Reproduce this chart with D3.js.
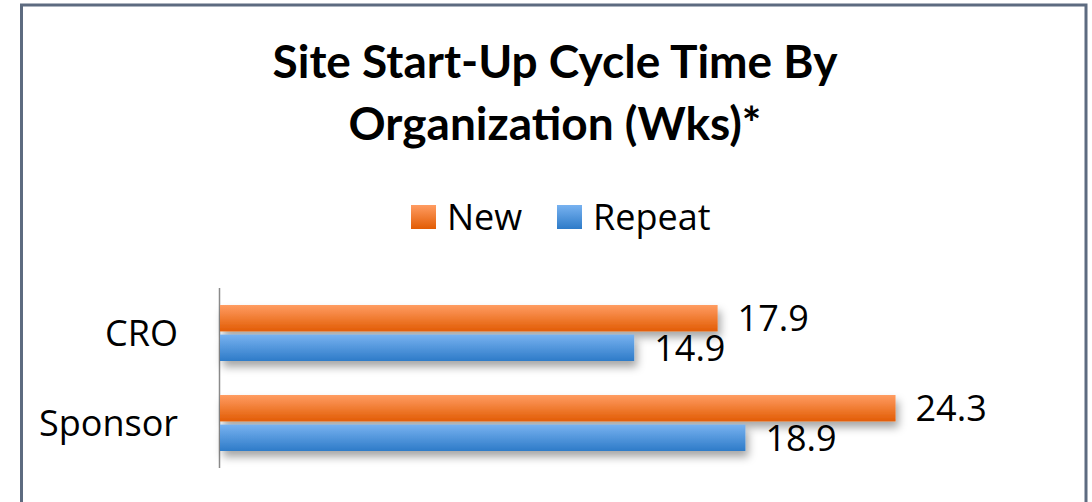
<!DOCTYPE html>
<html><head><meta charset="utf-8">
<script src="https://cdn.jsdelivr.net/npm/d3@7"></script>
<style>body{margin:0;background:#fff;overflow:hidden}svg{display:block}</style>
</head><body>
<script>
const title = ["Site Start-Up Cycle Time By", "Organization (Wks)*"];
const categories = ["CRO", "Sponsor"];
const seriesNames = ["New", "Repeat"];
const newValues = [17.9, 24.3];
const repeatValues = [14.9, 18.9];

const W = 1092, H = 502;
const titleFont = "Lato, 'Open Sans', sans-serif";
const font = "'Open Sans', 'Noto Sans', sans-serif";
const svg = d3.select("body").append("svg").attr("width", W).attr("height", H);
const defs = svg.append("defs");

function grad(id, top, bottom) {
  const g = defs.append("linearGradient").attr("id", id).attr("x1", 0).attr("y1", 0).attr("x2", 0).attr("y2", 1);
  g.append("stop").attr("offset", "0%").attr("stop-color", top);
  g.append("stop").attr("offset", "100%").attr("stop-color", bottom);
}
grad("gNew", "#FF9C62", "#E25C04");
grad("gRep", "#78B2F0", "#2E7BC8");
const colors = ["url(#gNew)", "url(#gRep)"];

const f = defs.append("filter").attr("id", "shadow").attr("x", "-5%").attr("y", "-50%").attr("width", "115%").attr("height", "250%");
f.append("feDropShadow").attr("dx", 3).attr("dy", 6).attr("stdDeviation", 4).attr("flood-color", "#000").attr("flood-opacity", 0.35);

// frame
svg.append("path").attr("d", `M21.5,${H + 5} V5 H1086 V${H + 5}`)
  .attr("fill", "none").attr("stroke", "#5d6b80").attr("stroke-width", 3);

// title
svg.append("text").attr("font-family", titleFont).attr("font-weight", "bold").attr("font-size", 46)
  .attr("text-anchor", "middle").attr("fill", "#000")
  .selectAll("tspan").data(title).join("tspan")
  .attr("x", 555).attr("y", (d, i) => 78 + i * 62).text(d => d);

// legend
const legendX = [411, 557];
const lg = svg.append("g").selectAll("g").data(seriesNames).join("g")
  .attr("transform", (d, i) => `translate(${legendX[i]},205)`);
lg.append("rect").attr("width", 25).attr("height", 24).attr("fill", (d, i) => colors[i]);
lg.append("text").attr("x", 36).attr("y", 12).attr("dy", "0.36em")
  .attr("font-family", font).attr("font-size", 36).attr("fill", "#000").text(d => d);

// scales
const x0 = 220;
const x = d3.scaleLinear().domain([0, 10]).range([x0, x0 + 278]);
const y = d3.scaleBand().domain(categories).range([288, 468]).paddingInner(0.378).paddingOuter(0.189);
const ySub = d3.scaleBand().domain(seriesNames).range([0, y.bandwidth()]).paddingInner(0.107);

// axis
const yAxis = d3.axisLeft(y).tickSize(0).tickPadding(42).tickSizeOuter(0);
const ag = svg.append("g").attr("transform", `translate(${x0},0)`).call(yAxis);
ag.select(".domain").remove();
ag.selectAll("text").attr("font-family", font).attr("font-size", 36).attr("fill", "#000").attr("dy", "0.36em");
svg.append("line").attr("x1", x0 - 0.5).attr("x2", x0 - 0.5).attr("y1", 288).attr("y2", 468)
  .attr("stroke", "#8a8a8a").attr("stroke-width", 1.5);

const data = categories.map((c, i) => ({ c, vals: [newValues[i], repeatValues[i]] }));
const groups = svg.append("g").selectAll("g").data(data).join("g")
  .attr("transform", d => `translate(0,${y(d.c)})`);
const bars = groups.selectAll("g").data(d => d.vals.map((v, i) => ({ v, s: seriesNames[i], i }))).join("g");
bars.append("rect").attr("x", x0).attr("y", d => ySub(d.s))
  .attr("width", d => x(d.v) - x0).attr("height", ySub.bandwidth())
  .attr("fill", d => colors[d.i]).attr("filter", "url(#shadow)");
bars.append("text").attr("x", d => x(d.v) + 20).attr("y", d => ySub(d.s) + ySub.bandwidth() / 2)
  .attr("dy", "0.36em").attr("font-family", font).attr("font-size", 36).attr("fill", "#000")
  .text(d => d.v.toFixed(1));
</script>
</body></html>
